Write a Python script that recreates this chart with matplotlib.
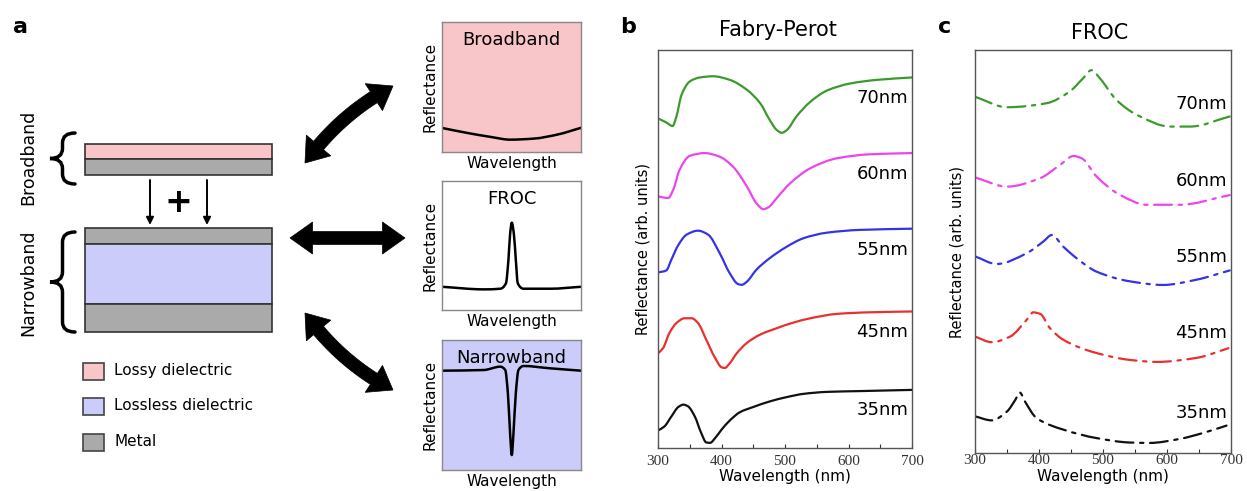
import numpy as np
import matplotlib
matplotlib.use("Agg")
import matplotlib.pyplot as plt
from matplotlib.patches import Rectangle, Polygon, PathPatch
from matplotlib.path import Path

# ---------------- data ----------------
thickness_labels = ["35nm", "45nm", "55nm", "60nm", "70nm"]
series_colors = ["#111111", "#e8302c", "#3434e6", "#ee44ee", "#3a9a2c"]

# Panel b: Fabry-Perot reflectance (arb. units)
fp_wl_35 = [300, 310, 321, 332, 340, 347, 358, 368, 376, 382, 390, 400, 413, 429, 450, 476, 503, 529, 566, 618, 700]
fp_r_35 = [0.044, 0.054, 0.079, 0.103, 0.109, 0.105, 0.079, 0.038, 0.014, 0.013, 0.025, 0.046, 0.069, 0.090, 0.103, 0.117, 0.128, 0.136, 0.141, 0.143, 0.146]
fp_wl_45 = [300, 308, 318, 329, 342, 353, 363, 376, 390, 400, 405, 413, 424, 440, 461, 487, 513, 540, 582, 634, 700]
fp_r_45 = [0.238, 0.251, 0.289, 0.314, 0.326, 0.326, 0.314, 0.272, 0.226, 0.203, 0.201, 0.213, 0.238, 0.264, 0.285, 0.301, 0.315, 0.326, 0.337, 0.341, 0.343]
fp_wl_55 = [300, 313, 321, 332, 345, 363, 379, 397, 413, 426, 432, 440, 455, 476, 503, 529, 566, 618, 700]
fp_r_55 = [0.441, 0.446, 0.473, 0.510, 0.536, 0.546, 0.536, 0.490, 0.439, 0.412, 0.410, 0.418, 0.448, 0.477, 0.506, 0.527, 0.541, 0.548, 0.551]
fp_wl_60 = [300, 316, 324, 334, 350, 374, 397, 418, 440, 455, 466, 474, 487, 508, 540, 582, 634, 700]
fp_r_60 = [0.632, 0.628, 0.649, 0.699, 0.734, 0.741, 0.732, 0.707, 0.657, 0.615, 0.600, 0.605, 0.628, 0.665, 0.703, 0.728, 0.738, 0.741]
fp_wl_70 = [300, 313, 323, 329, 337, 350, 366, 387, 413, 440, 461, 476, 487, 495, 503, 518, 540, 566, 603, 645, 700]
fp_r_70 = [0.828, 0.818, 0.809, 0.833, 0.887, 0.921, 0.931, 0.934, 0.925, 0.900, 0.866, 0.824, 0.799, 0.792, 0.799, 0.833, 0.870, 0.898, 0.916, 0.925, 0.931]

# Panel c: FROC reflectance (arb. units)
fr_wl_35 = [300, 326, 350, 363, 370, 378, 396, 438, 490, 542, 573, 620, 657, 693]
fr_r_35 = [0.091, 0.081, 0.103, 0.132, 0.150, 0.128, 0.087, 0.058, 0.037, 0.026, 0.025, 0.035, 0.050, 0.068]
fr_wl_45 = [300, 326, 355, 381, 391, 402, 417, 438, 490, 542, 584, 646, 696]
fr_r_45 = [0.289, 0.275, 0.289, 0.331, 0.349, 0.345, 0.310, 0.281, 0.248, 0.231, 0.226, 0.236, 0.260]
fr_wl_55 = [300, 334, 381, 407, 420, 438, 459, 490, 542, 594, 646, 698]
fr_r_55 = [0.488, 0.469, 0.496, 0.525, 0.541, 0.512, 0.483, 0.450, 0.426, 0.417, 0.430, 0.453]
fr_wl_60 = [300, 350, 402, 433, 454, 467, 490, 527, 568, 620, 698]
fr_r_60 = [0.684, 0.661, 0.682, 0.715, 0.737, 0.731, 0.686, 0.640, 0.616, 0.616, 0.640]
fr_wl_70 = [300, 350, 412, 448, 469, 482, 495, 521, 553, 605, 636, 698]
fr_r_70 = [0.884, 0.858, 0.868, 0.897, 0.930, 0.950, 0.930, 0.876, 0.839, 0.810, 0.810, 0.835]

fp_wl = [fp_wl_35, fp_wl_45, fp_wl_55, fp_wl_60, fp_wl_70]
fp_r = [fp_r_35, fp_r_45, fp_r_55, fp_r_60, fp_r_70]
fr_wl = [fr_wl_35, fr_wl_45, fr_wl_55, fr_wl_60, fr_wl_70]
fr_r = [fr_r_35, fr_r_45, fr_r_55, fr_r_60, fr_r_70]

# Schematic spectra (normalised wavelength, normalised reflectance)
bb_x = [0.0, 0.18, 0.35, 0.49, 0.66, 0.83, 1.0]
bb_y = [0.185, 0.147, 0.116, 0.095, 0.103, 0.134, 0.186]
froc_x = [0.0, 0.3, 0.42, 0.46, 0.478, 0.49, 0.502, 0.517, 0.531, 0.545, 0.586, 0.78, 1.0]
froc_y = [0.18, 0.16, 0.165, 0.207, 0.39, 0.59, 0.677, 0.59, 0.39, 0.207, 0.165, 0.165, 0.18]
nb_x = [0.0, 0.3, 0.42, 0.455, 0.474, 0.49, 0.502, 0.514, 0.531, 0.55, 0.586, 0.78, 1.0]
nb_y = [0.764, 0.769, 0.795, 0.769, 0.59, 0.28, 0.115, 0.28, 0.59, 0.769, 0.8, 0.782, 0.764]

xticks = [300, 400, 500, 600, 700]

PINK = "#f8c6c8"
LAV = "#ccccfa"
GRAY = "#aaaaaa"

W, H = 1247, 491
fig = plt.figure(figsize=(W / 100, H / 100), dpi=100)


def px_axes(x0, y0, x1, y1, **kw):
    return fig.add_axes([x0 / W, 1 - y1 / H, (x1 - x0) / W, (y1 - y0) / H], **kw)


def smooth_line(ax, x, y, **kw):
    """Draw a smooth (monotone cubic Hermite) curve through the given points, in data coords."""
    x = np.asarray(x, float)
    y = np.asarray(y, float)
    h = np.diff(x)
    d = np.diff(y) / h
    m = np.zeros_like(y)
    m[0], m[-1] = d[0], d[-1]
    for i in range(1, len(x) - 1):
        if d[i - 1] * d[i] <= 0:
            m[i] = 0.0
        else:
            w1 = 2 * h[i] + h[i - 1]
            w2 = h[i] + 2 * h[i - 1]
            m[i] = (w1 + w2) / (w1 / d[i - 1] + w2 / d[i])
    verts = [(x[0], y[0])]
    codes = [Path.MOVETO]
    for i in range(len(x) - 1):
        verts += [(x[i] + h[i] / 3, y[i] + m[i] * h[i] / 3),
                  (x[i + 1] - h[i] / 3, y[i + 1] - m[i + 1] * h[i] / 3),
                  (x[i + 1], y[i + 1])]
        codes += [Path.CURVE4] * 3
    ax.add_patch(PathPatch(Path(verts, codes), fill=False, capstyle="round", joinstyle="round", **kw))


# ---------------- overlay for schematic ----------------
ax0 = fig.add_axes([0, 0, 1, 1])
ax0.set_xlim(0, W)
ax0.set_ylim(H, 0)
ax0.axis("off")


def layer(x0, y0, x1, y1, fc):
    ax0.add_patch(Rectangle((x0, y0), x1 - x0, y1 - y0, facecolor=fc, edgecolor="#333333", lw=1.2))

layer(85, 144, 272, 159, PINK)
layer(85, 159, 272, 175, GRAY)
layer(85, 228, 272, 244, GRAY)
layer(85, 244, 272, 304, LAV)
layer(85, 304, 272, 332, GRAY)


def brace(x_tip, x_end, y0, y1, lw=2.5):
    xm = (x_tip + x_end) / 2
    ym = (y0 + y1) / 2
    d = min(10, (y1 - y0) / 5)
    verts = [(x_end, y0), (xm, y0), (xm, y0 + d),
             (xm, ym - d), (xm, ym), (x_tip, ym),
             (xm, ym), (xm, ym + d),
             (xm, y1 - d), (xm, y1), (x_end, y1)]
    codes = [Path.MOVETO, Path.CURVE3, Path.CURVE3,
             Path.LINETO, Path.CURVE3, Path.CURVE3,
             Path.CURVE3, Path.CURVE3,
             Path.LINETO, Path.CURVE3, Path.CURVE3]
    ax0.add_patch(PathPatch(Path(verts, codes), fill=False, lw=lw, color="k", capstyle="round"))

brace(50, 75, 133, 184)
brace(50, 75, 232, 332)

ax0.text(28, 157, "Broadband", rotation=90, ha="center", va="center", fontsize=12.5)
ax0.text(28, 283, "Narrowband", rotation=90, ha="center", va="center", fontsize=12.5)

for xx in (150, 207):
    ax0.annotate("", xy=(xx, 225), xytext=(xx, 180),
                 arrowprops=dict(arrowstyle="-|>", lw=1.4, color="k", mutation_scale=11, shrinkA=0, shrinkB=0))
ax0.text(178, 203, "+", ha="center", va="center", fontsize=24, fontweight="bold")

# legend
leg_items = [("Lossy dielectric", PINK, 371), ("Lossless dielectric", LAV, 406), ("Metal", GRAY, 442)]
for lab, fc, yc in leg_items:
    ax0.add_patch(Rectangle((83, yc - 8.5), 21, 17, facecolor=fc, edgecolor="#444444", lw=1.2))
    ax0.text(114, yc, lab, ha="left", va="center", fontsize=11)


def double_arrow(p0, p1, bulge, shaft_w=13, head_w=32, head_l=22):
    p0 = np.array(p0, float)
    p1 = np.array(p1, float)
    chord = p1 - p0
    nrm = np.array([-chord[1], chord[0]]) / np.hypot(*chord)
    c = (p0 + p1) / 2 + 2 * bulge * nrm
    t = np.linspace(0, 1, 200)[:, None]
    pts = (1 - t) ** 2 * p0 + 2 * (1 - t) * t * c + t ** 2 * p1
    seg = np.hypot(*np.diff(pts, axis=0).T)
    s = np.concatenate([[0], np.cumsum(seg)])
    L = s[-1]
    tang = np.gradient(pts, axis=0)
    tang /= np.hypot(tang[:, 0], tang[:, 1])[:, None]
    nn = np.stack([-tang[:, 1], tang[:, 0]], axis=1)
    msk = (s >= head_l) & (s <= L - head_l)
    i0 = np.argmax(msk)
    i1 = len(msk) - 1 - np.argmax(msk[::-1])
    sideA = pts[msk] + nn[msk] * shaft_w / 2
    sideB = pts[msk] - nn[msk] * shaft_w / 2
    hA0 = pts[i0] + nn[i0] * head_w / 2
    hB0 = pts[i0] - nn[i0] * head_w / 2
    hA1 = pts[i1] + nn[i1] * head_w / 2
    hB1 = pts[i1] - nn[i1] * head_w / 2
    poly = np.vstack([[p0], [hA0], sideA, [hA1], [p1], [hB1], sideB[::-1], [hB0]])
    ax0.add_patch(Polygon(poly, closed=True, facecolor="k", edgecolor="k", lw=0.5))

double_arrow((305, 163), (393, 86), -7)
double_arrow((290, 238), (405, 238), 0)
double_arrow((305, 313), (393, 390), 7)

ax0.text(20, 27, "a", ha="center", va="center", fontsize=16, fontweight="bold")
ax0.text(628, 27, "b", ha="center", va="center", fontsize=16, fontweight="bold")
ax0.text(945, 27, "c", ha="center", va="center", fontsize=16, fontweight="bold")

# ---------------- small schematic panels ----------------
small = [((22, 152), PINK, "Broadband", bb_x, bb_y),
         ((181, 310), "white", "FROC", froc_x, froc_y),
         ((340, 470), LAV, "Narrowband", nb_x, nb_y)]
for (y0, y1), fc, title, sx, sy in small:
    a = px_axes(442, y0, 581, y1)
    a.set_facecolor(fc)
    smooth_line(a, sx, sy, color="k", lw=1.8)
    a.set_xlim(0, 1)
    a.set_ylim(0, 1)
    a.set_xticks([])
    a.set_yticks([])
    for sp in a.spines.values():
        sp.set_color("#888888")
        sp.set_linewidth(1)
    a.text(0.5, 0.93, title, transform=a.transAxes, ha="center", va="top", fontsize=13)
    a.set_xlabel("Wavelength", fontsize=11, labelpad=3)
    a.set_ylabel("Reflectance", fontsize=11, labelpad=3)


# ---------------- panels b and c ----------------
def spectra_panel(box, wls, rs, ls, title, title_xy, label_y, tick_pad, ylab_x):
    a = px_axes(*box)
    for wl, r, col in zip(wls, rs, series_colors):
        smooth_line(a, wl, r, edgecolor=col, lw=1.6, linestyle=ls)
    a.set_xlim(300, 700)
    a.set_ylim(0, 1)
    a.set_yticks([])
    a.set_xticks(xticks)
    a.set_xticks([350, 450, 550, 650], minor=True)
    a.tick_params(axis="x", which="both", direction="in", length=3, width=0.8, pad=tick_pad,
                  labelsize=11, colors="#333333")
    for lab in a.get_xticklabels():
        lab.set_fontfamily("Liberation Serif")
    for sp in a.spines.values():
        sp.set_color("#555555")
        sp.set_linewidth(1)
    a.set_xlabel("Wavelength (nm)", fontsize=11, labelpad=1)
    a.set_ylabel("Reflectance (arb. units)", fontsize=10.5)
    a.yaxis.set_label_coords(ylab_x, 0.5)
    for lab, yv in zip(thickness_labels, label_y):
        a.text(0.985, yv, lab, transform=a.transAxes, ha="right", va="center", fontsize=13)
    fig.text(title_xy[0] / W, 1 - title_xy[1] / H, title, ha="center", va="center", fontsize=15)
    return a

spectra_panel((658, 50, 912, 448), fp_wl, fp_r, "-", "Fabry-Perot", (778, 30),
              [(448 - 410) / 398, (448 - 332) / 398, (448 - 250) / 398, (448 - 174) / 398, (448 - 98) / 398],
              5, -0.03)
spectra_panel((975, 50, 1231, 453), fr_wl, fr_r, (0, (8, 3, 1.5, 3)), "FROC", (1100, 33),
              [(453 - 413) / 403, (453 - 333) / 403, (453 - 257) / 403, (453 - 181) / 403, (453 - 104) / 403],
              1, -0.04)

fig.savefig("out.png", dpi=100)
